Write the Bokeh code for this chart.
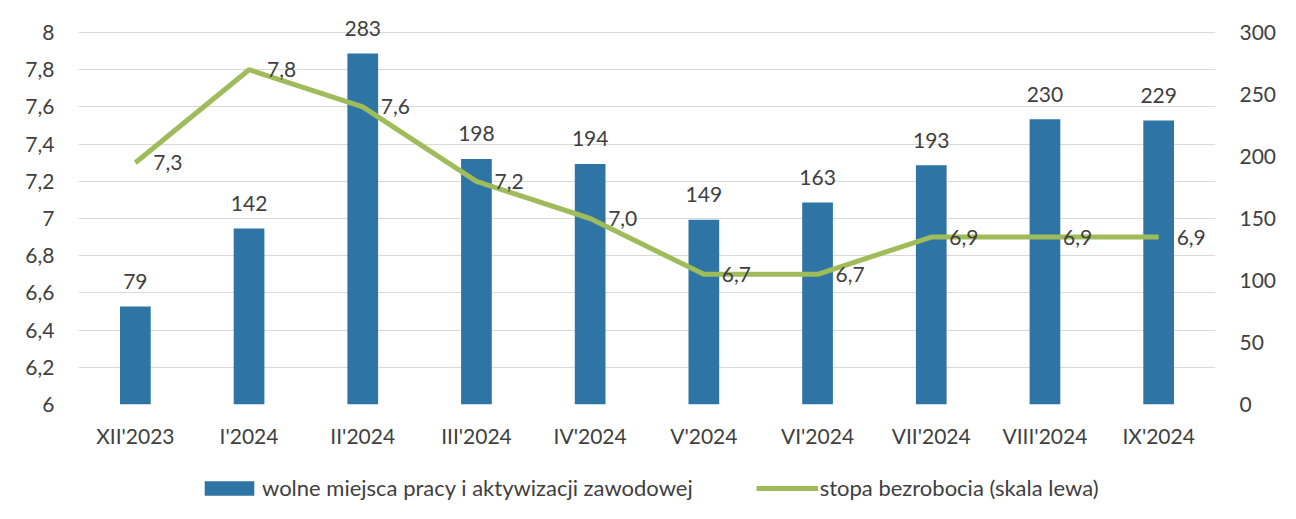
from bokeh.plotting import figure
from bokeh.layouts import column
from bokeh.models import FactorRange, Range1d, LinearAxis, FixedTicker, Legend, LegendItem, ColumnDataSource
from bokeh.core.properties import value
from bokeh.embed import file_html
from bokeh.resources import INLINE

categories = ["XII'2023", "I'2024", "II'2024", "III'2024", "IV'2024", "V'2024", "VI'2024", "VII'2024", "VIII'2024", "IX'2024"]
vacancies = [79, 142, 283, 198, 194, 149, 163, 193, 230, 229]
unemployment = [7.3, 7.8, 7.6, 7.2, 7.0, 6.7, 6.7, 6.9, 6.9, 6.9]
left_ticks = [6, 6.2, 6.4, 6.6, 6.8, 7, 7.2, 7.4, 7.6, 7.8, 8]
left_labels = ["6", "6,2", "6,4", "6,6", "6,8", "7", "7,2", "7,4", "7,6", "7,8", "8"]
right_ticks = [0, 50, 100, 150, 200, 250, 300]
series_names = ["wolne miejsca pracy i aktywizacji zawodowej", "stopa bezrobocia (skala lewa)"]

FONT = "Lato"
FS = "21px"
TXT = "#404040"
BAR = "#2e75a6"
LINE = "#9fbb5a"

# axis span 6..8 / 0..300 occupies 372 px; frame extends 24 px above it so top labels are not clipped
SPAN_PX = 372
TOP_PAD = 24
lmax = 8 + TOP_PAD * (8 - 6) / SPAN_PX
rmax = 300 + TOP_PAD * 300 / SPAN_PX

p = figure(x_range=FactorRange(*categories), y_range=Range1d(6, lmax),
           width=1280, height=456, output_backend="svg", toolbar_location=None,
           min_border_left=78, min_border_right=65, min_border_top=32 - TOP_PAD, min_border_bottom=52)
p.extra_y_ranges = {"r": Range1d(0, rmax)}
p.outline_line_color = None
p.background_fill_color = "white"
p.border_fill_color = "white"

bsrc = ColumnDataSource(dict(x=categories, top=vacancies, lab=[str(v) for v in vacancies]))
lsrc = ColumnDataSource(dict(x=categories, y=unemployment, lab=[f"{v:.1f}".replace(".", ",") for v in unemployment]))

bars = p.vbar(x="x", top="top", width=0.27, source=bsrc, y_range_name="r", fill_color=BAR, line_color=None)
line = p.line(x="x", y="y", source=lsrc, line_color=LINE, line_width=5)

p.text(x="x", y="top", text="lab", source=bsrc, y_range_name="r", text_align="center",
       text_baseline="alphabetic", y_offset=-25, text_font_size=FS, text_color=TXT, text_font=value(FONT))
p.text(x="x", y="y", text="lab", source=lsrc, text_align="left", text_baseline="middle",
       x_offset=18, y_offset=0, text_font_size=FS, text_color=TXT, text_font=value(FONT))

p.yaxis.ticker = FixedTicker(ticks=left_ticks)
p.yaxis.major_label_overrides = {t: l for t, l in zip(left_ticks, left_labels)}
p.yaxis.major_label_standoff = 18

raxis = LinearAxis(y_range_name="r", ticker=FixedTicker(ticks=right_ticks), major_label_standoff=18)
p.add_layout(raxis, "right")

for ax in [p.xaxis[0], p.yaxis[0], raxis]:
    ax.axis_line_color = None
    ax.major_tick_line_color = None
    ax.minor_tick_line_color = None
    ax.major_label_text_font_size = FS
    ax.major_label_text_color = TXT
    ax.major_label_text_font = FONT
p.xaxis.major_label_standoff = 12

p.xgrid.grid_line_color = None
p.ygrid.grid_line_color = "#d9d9d9"
p.ygrid.grid_line_width = 1

# legend strip below the chart; its glyphs use the same data but lie outside its visible range
q = figure(width=1280, height=50, x_range=FactorRange(*categories), y_range=Range1d(1000, 1001),
           output_backend="svg", toolbar_location=None,
           min_border_left=0, min_border_right=0, min_border_top=0, min_border_bottom=0)
q.axis.visible = False
q.grid.visible = False
q.outline_line_color = None
lb = q.vbar(x="x", top="top", width=0.27, source=bsrc, fill_color=BAR, line_color=None)
ll = q.line(x="x", y="y", source=lsrc, line_color=LINE, line_width=5)
legend = Legend(items=[LegendItem(label=series_names[0], renderers=[lb]),
                       LegendItem(label=series_names[1], renderers=[ll])],
                orientation="horizontal", location=(120, 5), border_line_color=None,
                background_fill_alpha=0, label_text_font_size="22px", label_text_color=TXT,
                label_text_font=FONT, glyph_width=62, glyph_height=18, spacing=63,
                margin=0, padding=4, label_standoff=2)
q.add_layout(legend, "center")

open("out.html", "w").write(file_html(column(p, q), INLINE))
